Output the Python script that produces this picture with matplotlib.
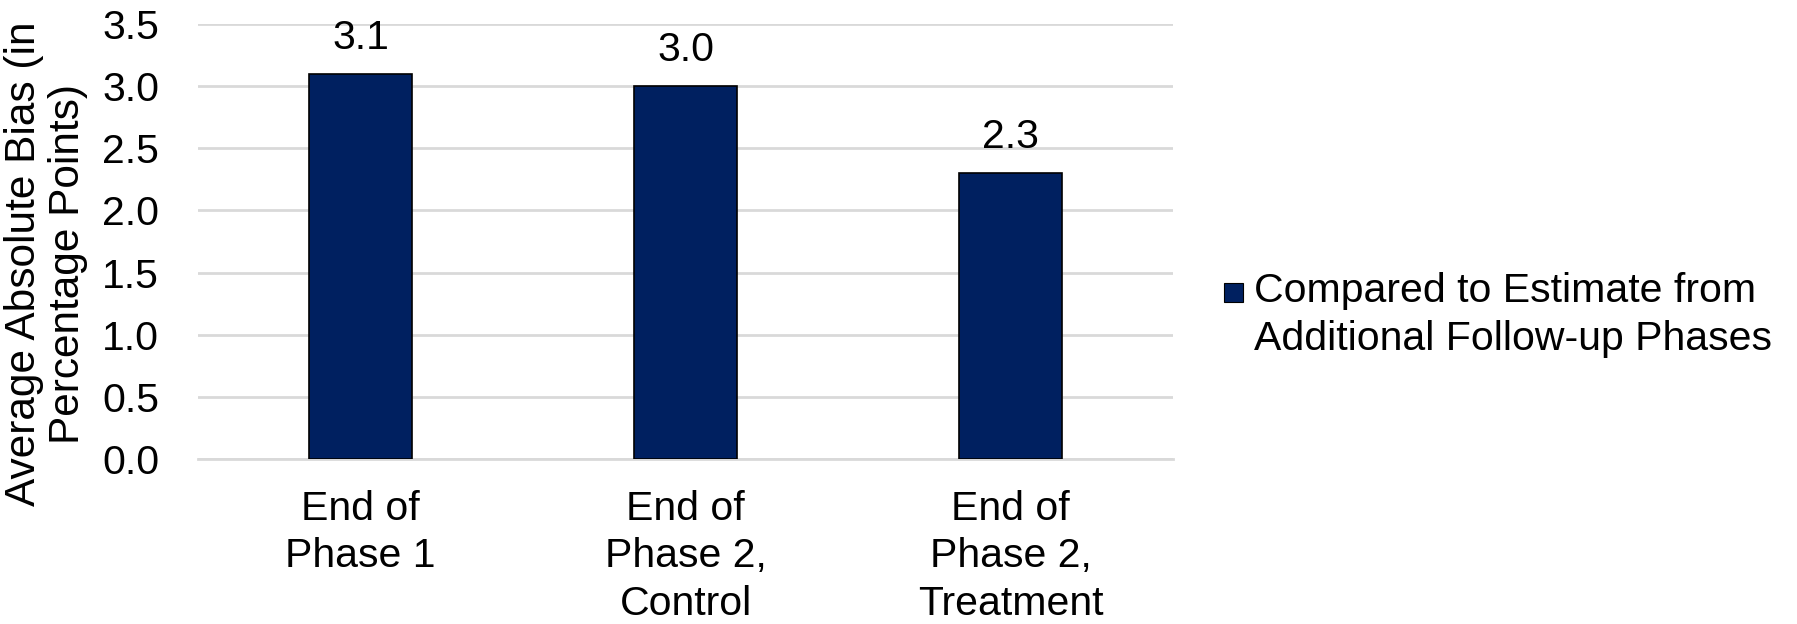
import matplotlib
matplotlib.use("Agg")
import matplotlib.pyplot as plt
from matplotlib.patches import Rectangle

categories = ["End of\nPhase 1", "End of\nPhase 2,\nControl", "End of\nPhase 2,\nTreatment"]
values = [3.1, 3.0, 2.3]
value_labels = ["3.1", "3.0", "2.3"]
yticks = [0.0, 0.5, 1.0, 1.5, 2.0, 2.5, 3.0, 3.5]
series_name = "Compared to Estimate from\nAdditional Follow-up Phases"
bar_color = "#002060"

plt.rcParams['font.family'] = ['Liberation Sans', 'DejaVu Sans']
FS = 29.5

W, H = 1797, 624
fig = plt.figure(figsize=(W / 100, H / 100), dpi=100)
ax = fig.add_axes([198 / W, 1 - 459 / H, (1173 - 198) / W, (459 - 24) / H])

x = list(range(len(categories)))
bars = ax.bar(x, values, width=0.314, color=bar_color, edgecolor="black",
              linewidth=1.2, zorder=3, label=series_name)

for xi, v, lab in zip(x, values, value_labels):
    ax.annotate(lab, (xi, v), xytext=(0, 12), textcoords="offset points",
                ha="center", va="bottom", fontsize=FS, color="black")

ax.set_xlim(-0.5, len(categories) - 0.5)
ax.set_ylim(0, 3.5)
ax.set_yticks(yticks)
ax.set_yticklabels([f"{t:.1f}" for t in yticks], fontsize=FS)
ax.set_xticks(x)
ax.set_xticklabels(categories, fontsize=FS, linespacing=1.32)
ax.tick_params(axis="both", length=0)
ax.tick_params(axis="y", pad=28)
ax.tick_params(axis="x", pad=22)

ax.grid(axis="y", color="#D9D9D9", linewidth=2, zorder=0)
ax.set_axisbelow(True)
for s in ["top", "right", "left"]:
    ax.spines[s].set_visible(False)
ax.spines["bottom"].set_color("#D9D9D9")
ax.spines["bottom"].set_linewidth(2)

fig.text(46 / W, 1 - 264 / H, "Average Absolute Bias (in\nPercentage Points)",
         rotation=90, ha="center", va="center", fontsize=30.5, linespacing=1.1)

# legend (manual, square aligned with first line)
fig.patches.append(Rectangle((1224 / W, 1 - 302 / H), 19 / W, 19 / H,
                             transform=fig.transFigure, facecolor=bar_color,
                             edgecolor="black", linewidth=0.8))
fig.text(1254 / W, 1 - 315 / H, series_name, ha="left", va="center",
         fontsize=FS, linespacing=1.3)

fig.savefig("out.png", dpi=100)
